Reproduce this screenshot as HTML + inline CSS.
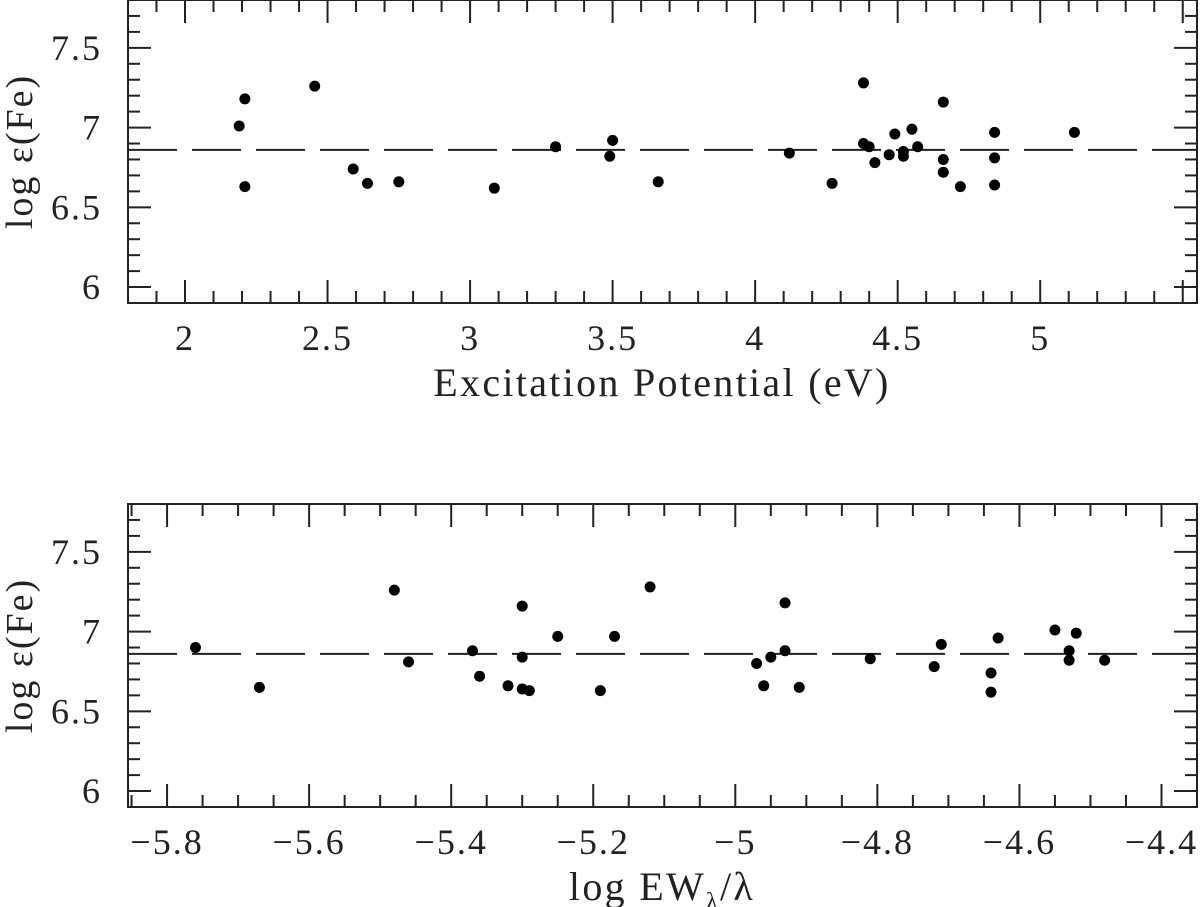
<!DOCTYPE html>
<html><head><meta charset="utf-8"><style>
body{margin:0;background:#fff;}
svg{display:block;font-family:"Liberation Serif","DejaVu Serif",serif;}
</style></head><body>
<svg id="c" width="1200" height="907"></svg>
<script>
const topX=[2.19,2.21,2.21,2.455,2.59,2.64,2.75,3.085,3.30,3.49,3.50,3.66,4.12,4.27,4.38,4.40,4.42,4.38,4.47,4.49,4.52,4.52,4.55,4.57,4.66,4.66,4.66,4.72,4.84,4.84,4.84,5.12];
const topY=[7.01,7.18,6.63,7.26,6.74,6.65,6.66,6.62,6.88,6.82,6.92,6.66,6.84,6.65,6.90,6.88,6.78,7.28,6.83,6.96,6.82,6.85,6.99,6.88,6.80,6.72,7.16,6.63,6.97,6.81,6.64,6.97];
const botX=[-5.76,-5.67,-5.48,-5.46,-5.37,-5.36,-5.32,-5.30,-5.30,-5.30,-5.29,-5.25,-5.17,-5.19,-5.12,-4.97,-4.96,-4.95,-4.93,-4.93,-4.91,-4.81,-4.72,-4.71,-4.64,-4.64,-4.63,-4.55,-4.52,-4.53,-4.53,-4.48];
const botY=[6.90,6.65,7.26,6.81,6.88,6.72,6.66,7.16,6.84,6.64,6.63,6.97,6.97,6.63,7.28,6.80,6.66,6.84,7.18,6.88,6.65,6.83,6.78,6.92,6.74,6.62,6.96,7.01,6.99,6.88,6.82,6.82];
const meanLevel=6.86;
const yTicks=[6,6.5,7,7.5];
const topTicks=[2,2.5,3,3.5,4,4.5,5];
const botTicks=[-5.8,-5.6,-5.4,-5.2,-5,-4.8,-4.6,-4.4];

const svg=document.getElementById('c');
const NS='http://www.w3.org/2000/svg';
function mk(tag,attrs,parent){const e=document.createElementNS(NS,tag);for(const k in attrs)e.setAttribute(k,attrs[k]);parent.appendChild(e);return e;}

function panel(name,top,xmin,xmax,minorStep,majorStep,xt,xs,ys,xlabel,isBot){
  const L=128,R=1197,B=top+303,ymin=5.9,ymax=7.8;
  const g=mk('g',{},svg);
  
  
  const X=v=>L+(v-xmin)/(xmax-xmin)*(R-L);
  const Y=v=>top+(ymax-v)/(ymax-ymin)*(B-top);
  const fr=mk('rect',{x:L,y:top,width:R-L,height:B-top,fill:'none',stroke:'#222','stroke-width':2},g);
  
  
  const n0=Math.ceil(xmin/minorStep-1e-6),n1=Math.floor(xmax/minorStep+1e-6);
  for(let i=n0;i<=n1;i++){const v=i*minorStep;const maj=Math.abs(v/majorStep-Math.round(v/majorStep))<1e-6;const len=maj?23:12;const x=X(v);
    mk('line',{x1:x,y1:B,x2:x,y2:B-len,stroke:'#222','stroke-width':2},g);
    mk('line',{x1:x,y1:top,x2:x,y2:top+len,stroke:'#222','stroke-width':2},g);}
  for(let i=59;i<=78;i++){const v=i/10;const maj=i%5===0;const len=maj?23:12;const y=Y(v);
    mk('line',{x1:L,y1:y,x2:L+len,y2:y,stroke:'#222','stroke-width':2},g);
    mk('line',{x1:R,y1:y,x2:R-len,y2:y,stroke:'#222','stroke-width':2},g);}
  xt.forEach(v=>{const t=mk('text',{x:X(v),y:B+47,'font-size':36,'letter-spacing':2,'text-anchor':'middle',fill:'#222'},g);
    t.textContent=(v<0?'\u2212'+String(-v):String(v));
    
    });
  yTicks.forEach(v=>{const t=mk('text',{x:102,y:Y(v)+12,'font-size':36,'letter-spacing':2,'text-anchor':'end',fill:'#222'},g);
    t.textContent=String(v);
    
    });
  const yl=mk('text',{x:0,y:0,'font-size':38,'letter-spacing':2,'text-anchor':'middle',fill:'#222',transform:`translate(32,${(top+B)/2}) rotate(-90)`},g);
  yl.textContent='log \u03b5(Fe)';
  
  
  const xl=mk('text',{x:662,y:B+93,'font-size':40,'letter-spacing':2.3,'text-anchor':'middle',fill:'#222'},g);
  if(isBot){xl.innerHTML='log EW<tspan font-size="24" dy="9">\u03bb</tspan><tspan dy="-9">/\u03bb</tspan>';}
  else xl.textContent=xlabel;
  
  
  const ml=mk('line',{x1:L,y1:Y(meanLevel),x2:R,y2:Y(meanLevel),stroke:'#222','stroke-width':2,'stroke-dasharray':'49 15'},g);
  
  
  xs.forEach((v,i)=>{const c=mk('circle',{cx:X(v),cy:Y(ys[i]),r:5.5,fill:'#000'},g);
    
    });
}
panel('excitation-panel',0,1.8,5.55,0.1,0.5,topTicks,topX,topY,'Excitation Potential (eV)',false);
panel('ew-panel',504,-5.855,-4.35,0.05,0.2,botTicks,botX,botY,'',true);
</script>
</body></html>
